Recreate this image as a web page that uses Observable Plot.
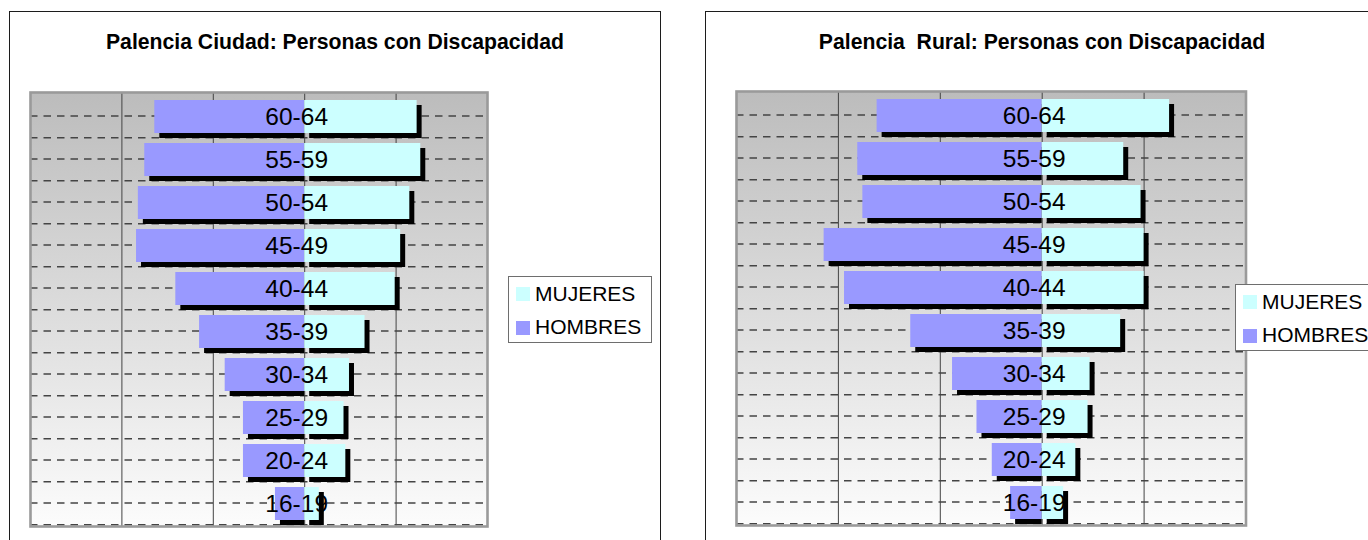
<!DOCTYPE html>
<html><head><meta charset="utf-8">
<script src="https://cdn.jsdelivr.net/npm/d3@7"></script>
<script src="https://cdn.jsdelivr.net/npm/@observablehq/plot@0.6"></script>
<style>
body{margin:0;background:#fff;width:1368px;height:540px;overflow:hidden;position:relative;font-family:"Liberation Sans",Arial,sans-serif;}
.box{position:absolute;border:1.6px solid #1c1c1c;background:#fff;box-sizing:border-box;}
.title{position:absolute;font-weight:bold;font-size:21.2px;line-height:21px;white-space:pre;transform:translateX(-50%);color:#000;}
.legend{position:absolute;border:1px solid #6e6e6e;background:#fff;box-sizing:border-box;}
.sw{position:absolute;width:14px;height:14px;}
.lt{position:absolute;font-size:21px;line-height:21px;white-space:pre;color:#000;}
.chart{position:absolute;}
</style></head><body>
<script>
// ---- data ----
const ageGroups = ["60-64","55-59","50-54","45-49","40-44","35-39","30-34","25-29","20-24","16-19"];
const ciudadHombres = [164, 175, 182, 184, 141, 115, 87, 67, 67, 32];
const ciudadMujeres = [123, 127, 115, 105, 99, 66, 49, 43, 45, 16];
const ruralHombres  = [162, 181, 176, 214, 194, 129, 88, 64, 49, 31];
const ruralMujeres  = [125, 80, 97, 100, 100, 77, 47, 45, 33, 21];
const gridValues = [-200, -100, 0, 100];
const xDomain = [-300, 200];
const seriesNames = ["MUJERES", "HOMBRES"];
const titles = ["Palencia Ciudad: Personas con Discapacidad", "Palencia  Rural: Personas con Discapacidad"];

const colors = {HOMBRES: "#9999ff", MUJERES: "#ccffff"};
const FONT = '"Liberation Sans", Arial, sans-serif';

function el(cls, css, text) {
  const d = document.createElement("div");
  d.className = cls;
  Object.assign(d.style, css);
  if (text != null) d.textContent = text;
  document.body.appendChild(d);
  return d;
}

function drawChart(cfg) {
  const {hombres, mujeres, title, box, titleX, area, legend, gradId} = cfg;
  el("box", {left: box.left + "px", top: box.top + "px", width: box.width + "px", height: "620px"});
  el("title", {left: titleX + "px", top: "31px"}, title);

  const m = 10;
  const bw = area.height / ageGroups.length;
  const rows = ageGroups.map((age, i) => ({age, h: hombres[i], m: mujeres[i]}));
  const dash = {stroke: "#444", strokeWidth: 1.5, strokeDasharray: "7.5,6"};
  const barInset = {insetTop: 6, insetBottom: 4};
  const svg = Plot.plot({
    width: area.width + 2 * m, height: area.height + 2 * m,
    marginTop: m, marginRight: m, marginBottom: m, marginLeft: m,
    x: {domain: xDomain, axis: null},
    y: {domain: ageGroups, axis: null, padding: 0},
    style: {background: "transparent", overflow: "visible", fontFamily: FONT, color: "#000"},
    marks: [
      Plot.frame({fill: `url(#${gradId})`, stroke: "none"}),
      Plot.ruleY(ageGroups, dash),
      Plot.ruleY(ageGroups, {...dash, dy: bw / 2}),
      Plot.ruleX(gridValues, {stroke: "#444", strokeWidth: 1}),
      // shadows
      Plot.barX(rows, {x1: d => -d.h, x2: d => 0, y: "age", fill: "#000", dx: 5, dy: 5, insetRight: 5, ...barInset}),
      Plot.barX(rows, {x1: d => 0, x2: d => d.m, y: "age", fill: "#000", dx: 5, dy: 5, ...barInset}),
      // bars
      Plot.barX(rows, {x1: d => -d.h, x2: d => 0, y: "age", fill: colors.HOMBRES, ...barInset}),
      Plot.barX(rows, {x1: d => 0, x2: d => d.m, y: "age", fill: colors.MUJERES, ...barInset}),
      Plot.text(rows, {x: d => 0, y: "age", text: "age", fontSize: 24.5, fill: "#000", dx: -8, dy: 1}),
      Plot.frame({stroke: "#9a9a9a", strokeWidth: 2.6})
    ]
  });
  const ns = "http://www.w3.org/2000/svg";
  const defs = document.createElementNS(ns, "defs");
  defs.innerHTML = `<linearGradient id="${gradId}" x1="0" y1="0" x2="0" y2="1"><stop offset="0" stop-color="#bcbcbc"/><stop offset="0.5" stop-color="#dcdcdc"/><stop offset="1" stop-color="#fcfcfc"/></linearGradient>`;
  svg.insertBefore(defs, svg.firstChild);
  const wrap = el("chart", {left: (area.left - m) + "px", top: (area.top - m) + "px"});
  wrap.appendChild(svg);

  const lg = el("legend", {left: legend.left + "px", top: legend.top + "px", width: legend.width + "px", height: "67px"});
  seriesNames.forEach((name, i) => {
    const sw = document.createElement("div");
    sw.className = "sw";
    Object.assign(sw.style, {left: "7px", top: (10 + i * 33.5) + "px", background: colors[name]});
    lg.appendChild(sw);
    const t = document.createElement("div");
    t.className = "lt";
    Object.assign(t.style, {left: "26px", top: (5.5 + i * 33.5) + "px"});
    t.textContent = name;
    lg.appendChild(t);
  });
}

drawChart({
  hombres: ciudadHombres, mujeres: ciudadMujeres, title: titles[0],
  box: {left: 8.5, top: 11, width: 652.5}, titleX: 335,
  area: {left: 30.3, top: 91.6, width: 457, height: 434},
  legend: {left: 508, top: 276, width: 144}, gradId: "gradL"
});
drawChart({
  hombres: ruralHombres, mujeres: ruralMujeres, title: titles[1],
  box: {left: 705, top: 11, width: 720}, titleX: 1042,
  area: {left: 735.9, top: 91, width: 509.5, height: 434},
  legend: {left: 1235, top: 284, width: 160}, gradId: "gradR"
});
</script>
</body></html>
